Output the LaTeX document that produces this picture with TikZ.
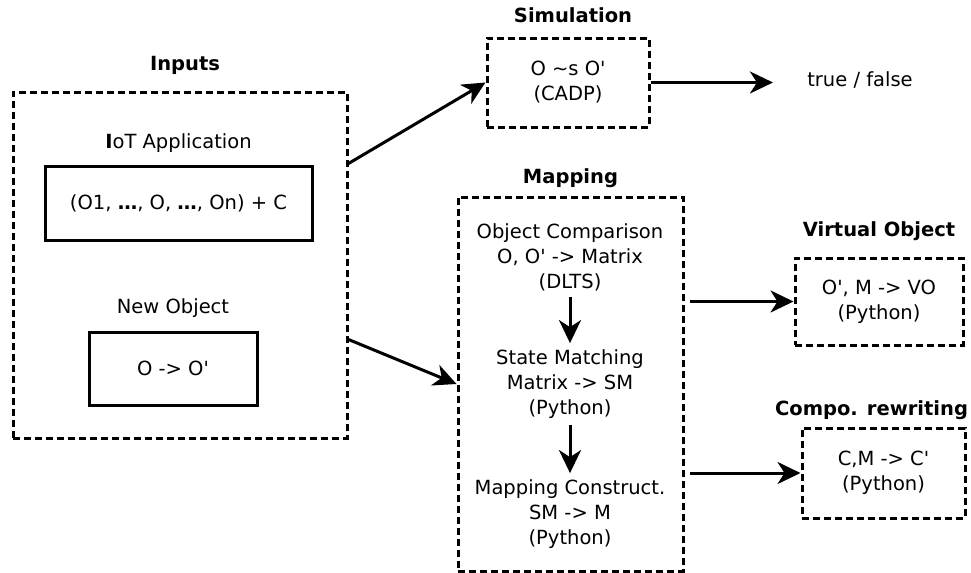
\documentclass[tikz,border=0pt]{standalone}
\usepackage{fontspec}
\setmainfont{DejaVu Sans}
\usetikzlibrary{positioning, arrows.meta}

\newcommand{\pr}{\textquotesingle}

\begin{document}
\begin{tikzpicture}[
		every node/.style={font=\fontsize{11.1}{14.2}\selectfont},
		stage/.style={draw, dash pattern=on 1.4mm off 0.8mm, align=center},
		item/.style={draw, align=center},
		title/.style={font=\fontsize{11.1}{14.2}\selectfont\bfseries, inner sep=0pt, text depth=0pt},
		caption/.style={inner sep=0pt, text depth=0pt},
		txt/.style={align=center, inner sep=1mm},
		line width=0.06cm,
		->, >={Stealth[length=4.6mm, width=4.4mm, inset=1.4mm]},
		]
		\useasboundingbox (0,0) rectangle (19.42,-11.46);
		
		% Eingaben
		\node[stage, minimum width=6.68cm, minimum height=6.92cm] (inputs) at (3.6,-5.3) {};
		\node[title, above=0.38cm of inputs, xshift=0.1cm] (inputsT) {Inputs};
		\node[item, minimum width=5.34cm, minimum height=1.48cm] (app) at (3.57,-4.06) {(O1, {\bfseries …}, O, {\bfseries …}, On) + C};
		\node[caption, above=0.3cm of app] (appT) {{\bfseries I}oT Application};
		\node[item, minimum width=3.36cm, minimum height=1.46cm] (obj) at (3.46,-7.37) {O -> O\pr};
		\node[caption, above=0.32cm of obj] (objT) {New Object};
		
		% Simulation
		\node[stage, minimum width=3.24cm, minimum height=1.78cm] (sim) at (11.36,-1.65) {O \textasciitilde s O\pr\\(CADP)};
		\node[title, above=0.26cm of sim, xshift=0.1cm] (simT) {Simulation};
		\node (tf) at (17.2,-1.6) {true / false};
		
		% Mapping
		\node[stage, minimum width=4.5cm, minimum height=7.48cm] (mapping) at (11.41,-7.68) {};
		\node[title, above=0.22cm of mapping] (mappingT) {Mapping};
		\node[txt] (oc) at (11.4,-5.14) {Object Comparison\\O, O\pr{} -> Matrix\\(DLTS)};
		\node[txt] (sm) at (11.4,-7.68) {State Matching\\Matrix -> SM\\(Python)};
		\node[txt] (mc) at (11.4,-10.28) {Mapping Construct.\\SM -> M\\(Python)};
		
		% Ausgaben
		\node[stage, minimum width=3.36cm, minimum height=1.74cm] (vo) at (17.58,-6.03) {O\pr, M -> VO\\(Python)};
		\node[title, above=0.38cm of vo] (voT) {Virtual Object};
		\node[stage, minimum width=3.26cm, minimum height=1.8cm] (cr) at (17.67,-9.46) {C,M -> C\pr\\(Python)};
		\node[title, above=0.2cm of cr, xshift=-0.24cm] (crT) {Compo. rewriting};
		
		% Pfeile
		\draw ([yshift=-1.46cm]inputs.north east) -- (sim.west);
		\draw ([yshift=2cm]inputs.south east) -- (mapping.west);
		\draw[shorten >=0.54cm] (sim.east) -- (sim.east -| tf.west);
		\draw (oc) -- (sm);
		\draw (sm) -- (mc);
		\draw[shorten <=0.1cm] (mapping.east |- vo.west) -- (vo.west);
		\draw[shorten <=0.1cm] (mapping.east |- cr.west) -- (cr.west);
		
\end{tikzpicture}
\end{document}
